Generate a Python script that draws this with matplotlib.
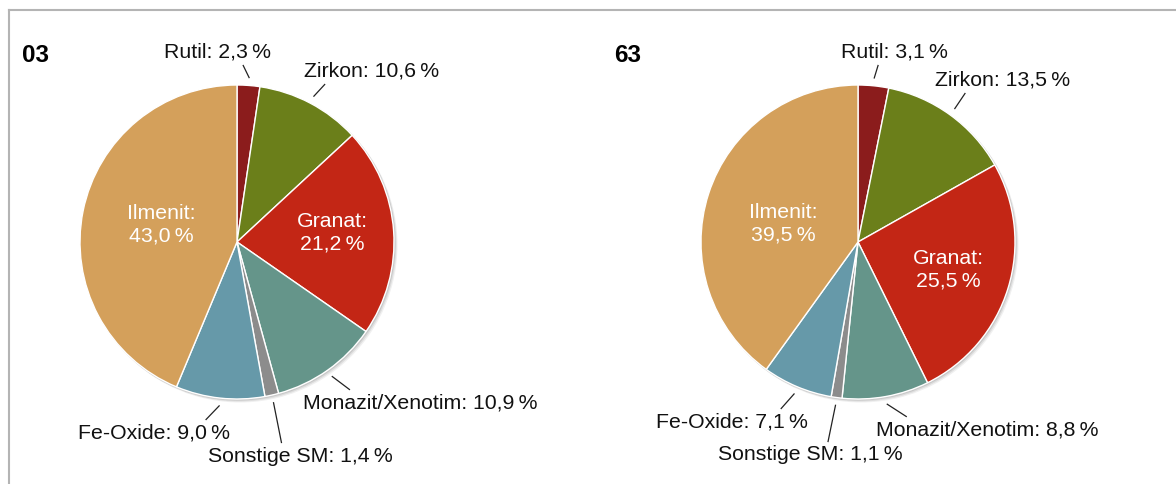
import numpy as np
import matplotlib
matplotlib.use("Agg")
import matplotlib.pyplot as plt
from matplotlib.patches import Circle

plt.rcParams['font.family'] = ['Liberation Sans', 'DejaVu Sans']

categories = ["Rutil", "Zirkon", "Granat", "Monazit/Xenotim", "Sonstige SM", "Fe-Oxide", "Ilmenit"]
values_03 = [2.3, 10.6, 21.2, 10.9, 1.4, 9.0, 43.0]
values_63 = [3.1, 13.5, 25.5, 8.8, 1.1, 7.1, 39.5]
titles = ["03", "63"]
colors = ["#8B1C1C", "#6B7F1A", "#C32615", "#65958A", "#8C8C8C", "#6699A9", "#D4A05B"]
inside = {"Granat", "Ilmenit"}

W, H = 1176, 484
fig = plt.figure(figsize=(W / 100, H / 100), dpi=100)
ax = fig.add_axes([0, 0, 1, 1])
ax.set_xlim(0, W)
ax.set_ylim(0, H)
ax.axis('off')

# layout (pixel positions, y from top)
centers = [(237, 242), (858, 242)]
radius = 157
title_pos = [(22, 55), (614, 55)]
label_pos = [
    {"Rutil": (218, 52), "Zirkon": (372, 71), "Granat": (332, 233), "Ilmenit": (161, 225),
     "Monazit/Xenotim": (420, 403), "Sonstige SM": (300, 456), "Fe-Oxide": (154, 433)},
    {"Rutil": (894, 52), "Zirkon": (1003, 80), "Granat": (948, 270), "Ilmenit": (783, 224),
     "Monazit/Xenotim": (987, 430), "Sonstige SM": (810, 455), "Fe-Oxide": (732, 422)},
]

def fmt(v):
    return ("%.1f" % v).replace(".", ",") + "\u2009%"

fs = 15.3
pending = []
for i, vals in enumerate([values_03, values_63]):
    cx, cy = centers[i]
    cyd = H - cy
    # soft shadow
    for k, a in [(3, 0.06), (2, 0.08), (1, 0.10)]:
        ax.add_patch(Circle((cx + k, cyd - k), radius + 0.5, color='black', alpha=a, lw=0, zorder=1))
    wedges, _ = ax.pie(vals, colors=colors, startangle=90, counterclock=False,
                       center=(cx, cyd), radius=radius,
                       wedgeprops=dict(edgecolor='white', linewidth=1.0, zorder=2))
    ax.set_xlim(0, W)
    ax.set_ylim(0, H)
    ax.set_aspect('auto')
    ax.text(title_pos[i][0], H - title_pos[i][1], titles[i], fontsize=17.5, fontweight='bold',
            ha='left', va='center', color='black')
    total = sum(vals)
    cum = 0.0
    for name, v in zip(categories, vals):
        mid = 90 - 360 * (cum + v / 2) / total
        cum += v
        lx, ly = label_pos[i][name]
        if name in inside:
            ax.text(lx, H - ly, name + ":\n" + fmt(v), fontsize=fs, color='white',
                    ha='center', va='center', linespacing=1.25, zorder=5)
        else:
            t = ax.text(lx, H - ly, name + ": " + fmt(v), fontsize=fs, color='#111111',
                        ha='center', va='center', zorder=5)
            px = cx + radius * 1.05 * np.cos(np.radians(mid))
            py = cyd + radius * 1.05 * np.sin(np.radians(mid))
            pending.append((t, px, py))

fig.canvas.draw()
for t, px, py in pending:
    bb = t.get_window_extent()
    pad = 4
    x0, x1 = bb.x0 - pad, bb.x1 + pad
    y0, y1 = bb.y0 - pad, bb.y1 + pad
    # nearest point on padded label box
    qx = min(max(px, x0), x1)
    qy = min(max(py, y0), y1)
    # point where the ray towards the label centre meets the box
    tcx, tcy = (bb.x0 + bb.x1) / 2, (bb.y0 + bb.y1) / 2
    dx, dy = tcx - px, tcy - py
    if abs(dy) > 1e-6 and (qy == y0 or qy == y1):
        rx = px + dx * (qy - py) / dy
        ex = 0.6 * qx + 0.4 * rx
        ey = qy
    else:
        ex, ey = qx, qy
    ax.plot([px, ex], [py, ey], color='#222222', lw=0.9, zorder=4)

# frame lines (top and left)
ax.plot([9, W], [H - 10, H - 10], color='#B4B4B4', lw=1.5, zorder=6)
ax.plot([9, 9], [H - 10, 0], color='#B4B4B4', lw=1.5, zorder=6)

fig.savefig("out.png", dpi=100, facecolor='white')
